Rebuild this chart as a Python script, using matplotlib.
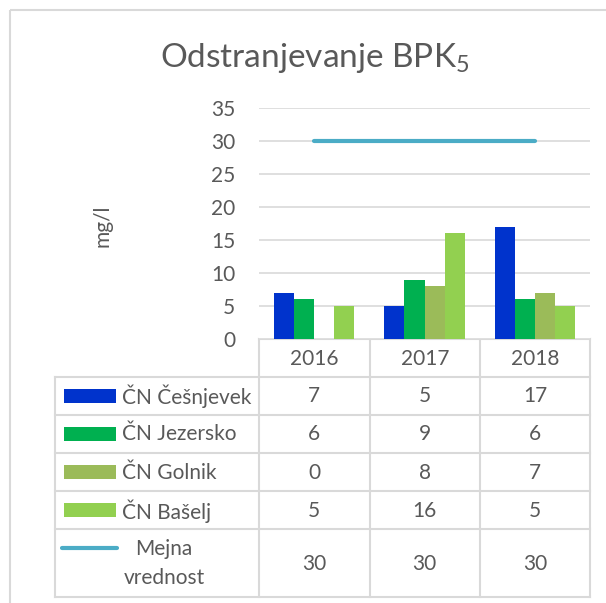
import matplotlib
matplotlib.use("Agg")
import matplotlib.pyplot as plt
from matplotlib.patches import Rectangle
import numpy as np

plt.rcParams['font.family'] = ['Lato', 'DejaVu Sans']
plt.rcParams['mathtext.fontset'] = 'custom'
plt.rcParams['mathtext.rm'] = 'Lato'

title = "Odstranjevanje BPK$_\\mathregular{5}$"
years = ["2016", "2017", "2018"]
series_names = ["ČN Češnjevek", "ČN Jezersko", "ČN Golnik", "ČN Bašelj"]
cesnjevek = [7, 5, 17]
jezersko = [6, 9, 6]
golnik = [0, 8, 7]
baselj = [5, 16, 5]
limit_name = "Mejna\nvrednost"
limit = [30, 30, 30]
colors = ["#0033CC", "#00B050", "#9BBB59", "#92D050"]
limit_color = "#4BACC6"
yticks = [0, 5, 10, 15, 20, 25, 30, 35]
series = [cesnjevek, jezersko, golnik, baselj]

W, H = 606, 603
fig = plt.figure(figsize=(W / 100, H / 100), dpi=100)
txt = "#595959"
grid = "#D9D9D9"
FS = 15

def fx(x):
    return x / W

def fy(y):
    return 1 - y / H

# plot area in pixels
L, R, T, B = 259, 590, 108, 339
ax = fig.add_axes([fx(L), fy(B), fx(R - L), (B - T) / H])
x = np.arange(len(years))
bw = 0.182
for i, (vals, c) in enumerate(zip(series, colors)):
    ax.bar(x + (i - 1.5) * bw, vals, width=bw, color=c, edgecolor='none', zorder=3)
ax.plot(x, limit, color=limit_color, lw=3.0, solid_capstyle='round', zorder=4)
ax.set_xlim(-0.5, 2.5)
ax.set_ylim(0, 35)
ax.set_yticks(yticks)
ax.set_yticklabels([str(v) for v in yticks], fontsize=FS, color=txt)
ax.tick_params(axis='y', length=0, pad=17)
ax.set_xticks([])
for s in ax.spines.values():
    s.set_visible(False)
ax.grid(axis='y', color=grid, lw=1.2, zorder=0)
ax.set_axisbelow(True)

fig.text(fx(103), fy(226), "mg/l", rotation=90, ha='center', va='center', fontsize=FS, color=txt)
fig.text(fx(315), fy(58), title, ha='center', va='center', fontsize=24, color=txt)

# overlay for table and border
ov = fig.add_axes([0, 0, 1, 1], zorder=-1)
ov.set_xlim(0, W)
ov.set_ylim(H, 0)
ov.axis('off')
ov.add_patch(Rectangle((9.5, 9.5), 620, 620, fill=False, edgecolor="#D9D9D9", lw=1.5))

tl = 55
cols = [259, 369.5, 480, 590]
rows = [339, 376.5, 414.5, 452.5, 491, 529, 597]
lc = "#D9D9D9"
lw = 1.5
ov.plot([cols[0], cols[-1]], [rows[0], rows[0]], color=lc, lw=lw)
for yv in rows[1:]:
    ov.plot([tl, cols[-1]], [yv, yv], color=lc, lw=lw)
ov.plot([tl, tl], [rows[1], rows[-1]], color=lc, lw=lw)
for xv in cols:
    ov.plot([xv, xv], [rows[0], rows[-1]], color=lc, lw=lw)

centers = [(cols[i] + cols[i + 1]) / 2 for i in range(3)]
for cxv, yr in zip(centers, years):
    ov.text(cxv, (rows[0] + rows[1]) / 2 + 1, yr, ha='center', va='center', fontsize=FS, color=txt)

for r, (name, vals, c) in enumerate(zip(series_names, series, colors)):
    ym = (rows[r + 1] + rows[r + 2]) / 2
    ov.add_patch(Rectangle((63.5, ym - 7), 52.5, 14, color=c, lw=0))
    ov.text(122, ym + 1, name, ha='left', va='center', fontsize=FS, color=txt)
    for cxv, v in zip(centers, vals):
        ov.text(cxv, ym + 1, str(v), ha='center', va='center', fontsize=FS, color=txt)

ym = (rows[5] + rows[6]) / 2
ov.plot([62, 117], [ym - 15, ym - 15], color=limit_color, lw=3.0, solid_capstyle='round')
ov.text(164, ym - 14, "Mejna", ha='center', va='center', fontsize=FS, color=txt)
ov.text(164, ym + 15, "vrednost", ha='center', va='center', fontsize=FS, color=txt)
for cxv, v in zip(centers, limit):
    ov.text(cxv, ym + 1, str(v), ha='center', va='center', fontsize=FS, color=txt)

fig.savefig("out.png", dpi=100)
